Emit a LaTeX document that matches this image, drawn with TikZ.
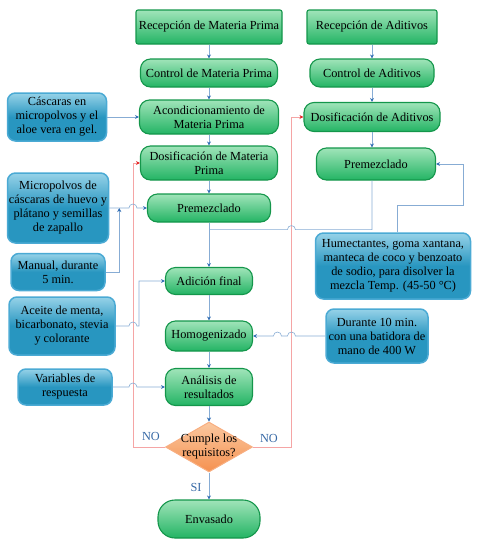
\documentclass[tikz,border=0pt]{standalone}
\usepackage{fontspec}
\setmainfont{Liberation Serif}
\usetikzlibrary{positioning,shapes.geometric,arrows.meta}

\definecolor{greenTop}{RGB}{160,228,185}
\definecolor{greenBot}{RGB}{35,180,100}
\definecolor{greenEdge}{RGB}{20,150,75}
\definecolor{blueTop}{RGB}{150,210,232}
\definecolor{blueBot}{RGB}{40,150,192}
\definecolor{blueEdge}{RGB}{75,170,212}
\definecolor{orangeTop}{RGB}{250,200,160}
\definecolor{orangeBot}{RGB}{245,145,80}
\definecolor{orangeEdge}{RGB}{248,175,130}
\definecolor{flowBlue}{RGB}{135,172,212}
\definecolor{tipBlue}{RGB}{50,110,180}
\definecolor{lineRed}{RGB}{245,165,165}
\definecolor{tipRed}{RGB}{230,35,35}
\definecolor{labelBlue}{RGB}{55,105,165}

\begin{document}
\begin{tikzpicture}[font=\fontsize{12.3}{14}\selectfont, on grid,
stepnode/.style={rectangle, rounded corners=10pt, draw=greenEdge, line width=1.1pt, top color=greenTop, bottom color=greenBot, align=center, inner sep=1pt},
inputnode/.style={stepnode, rounded corners=2pt},
infonode/.style={rectangle, rounded corners=8pt, draw=blueEdge, line width=1.5pt, top color=blueTop, bottom color=blueBot, middle color=blueBot, align=center, inner sep=1pt},
decisionnode/.style={diamond, minimum width=87pt, minimum height=50pt, inner sep=0pt, draw=orangeEdge, line width=1pt, top color=orangeTop, bottom color=orangeBot},
link/.style={draw=flowBlue, line width=0.6pt},
flow/.style={link, -{Stealth[length=4pt, width=4pt, color=tipBlue]}},
backflow/.style={draw=lineRed, line width=0.7pt, -{Stealth[length=4pt, width=4pt, color=tipRed]}},
lbl/.style={text=labelBlue},
]
\useasboundingbox (0pt,0pt) rectangle (479pt,-550pt);

%Nodes
\node[inputnode, minimum width=146pt, minimum height=34pt] (recMP) at (209pt,-27pt) {Recepción de Materia Prima};
\node[stepnode, minimum width=137pt, minimum height=28pt] (ctrlMP)   [below=46pt of recMP]  {Control de Materia Prima};
\node[stepnode, minimum width=139pt, minimum height=34pt] (acond)    [below=44pt of ctrlMP] {Acondicionamiento de\\Materia Prima};
\node[stepnode, minimum width=137pt, minimum height=34pt] (dosMP)    [below=46pt of acond]  {Dosificación de Materia\\Prima};
\node[stepnode, minimum width=123pt, minimum height=28pt] (premL)    [below=45pt of dosMP]  {Premezclado};
\node[stepnode, minimum width=87pt, minimum height=27pt]  (adicion)  [below=73pt of premL]  {Adición final};
\node[stepnode, minimum width=87pt, minimum height=30pt]  (homog)    [below=55pt of adicion] {Homogenizado};
\node[stepnode, minimum width=87pt, minimum height=37pt]  (analisis) [below=51pt of homog]  {Análisis de\\resultados};
\node[decisionnode, label={[align=center]center:Cumple los\\requisitos?}] (cumple) [below=60pt of analisis] {};
\node[stepnode, rounded corners=17pt, minimum width=102pt, minimum height=38pt] (envasado) [below=72pt of cumple] {Envasado};

\node[inputnode, minimum width=130pt, minimum height=34pt] (recA) [right=163pt of recMP] {Recepción de Aditivos};
\node[stepnode, minimum width=124pt, minimum height=28pt] (ctrlA) [below=46pt of recA]  {Control de Aditivos};
\node[stepnode, minimum width=136pt, minimum height=29pt] (dosA)  [below=44pt of ctrlA] {Dosificación de Aditivos};
\node[stepnode, minimum width=119pt, minimum height=32pt] (premR) [below=47pt of dosA, xshift=4pt] {Premezclado};

\node[infonode, minimum width=99pt, minimum height=48pt]  (cascaras)  [left=152pt of acond]     {Cáscaras en\\micropolvos y el\\aloe vera en gel.};
\node[infonode, minimum width=101pt, minimum height=70pt] (micro)     [left=151pt of premL]     {Micropolvos de\\cáscaras de huevo y\\plátano y semillas\\de zapallo};
\node[infonode, minimum width=94pt, minimum height=37pt]  (manual)    [below=64pt of micro]     {Manual, durante\\5 min.};
\node[infonode, minimum width=106pt, minimum height=58pt] (aceite)    [below=54pt of manual, xshift=4pt] {Aceite de menta,\\bicarbonato, stevia\\y colorante};
\node[infonode, minimum width=94pt, minimum height=36pt]  (variables) [left=144pt of analisis]  {Variables de\\respuesta};
\node[infonode, minimum width=155pt, minimum height=66pt] (humect)    [below=102pt of premR, xshift=17pt] {Humectantes, goma xantana,\\manteca de coco y benzoato\\de sodio, para disolver la\\mezcla Temp. (45-50 °C)};
\node[infonode, minimum width=102pt, minimum height=54pt] (durante)   [right=168pt of homog]    {Durante 10 min.\\con una batidora de\\mano de 400 W};

\node[lbl] (noL) at ([xshift=-14pt, yshift=11pt]cumple.west)  {NO};
\node[lbl] (noR) at ([xshift=16pt, yshift=9pt]cumple.east)    {NO};
\node[lbl] (si)  at ([xshift=-13pt, yshift=-15pt]cumple.south) {SI};

\coordinate (redL)  at ([xshift=-7pt]dosMP.west);
\coordinate (redR)  at ([xshift=-12pt]dosA.west);
\coordinate (joinM) at ([xshift=10pt]micro.east);
\coordinate (mixJ)  at ([yshift=-7pt]premL.south);

%Lines
\draw[backflow] (cumple.west) -| (redL) -- (dosMP.west);
\draw[backflow] (cumple.east) -| (redR) -- (dosA.west);

\foreach \a/\b in {recMP/ctrlMP, ctrlMP/acond, acond/dosMP, dosMP/premL, premL/adicion, adicion/homog, homog/analisis, analisis/cumple, cumple/envasado, recA/ctrlA, ctrlA/dosA}
  \draw[flow] (\a.south) -- (\b.north);
\draw[flow] (dosA.south) -- (dosA.south|-premR.north);

\draw[flow] (cascaras.east) -- (acond.west);
\draw[flow] (micro.east) -- ([xshift=-4pt]redL|-micro.east) arc[start angle=180, end angle=0, radius=4pt] -- (premL.west);
\draw[flow] (manual.east) -| (joinM);
\draw[flow] (aceite.east) -- ([xshift=-4pt]redL|-aceite.east) arc[start angle=180, end angle=0, radius=4pt] -- ([xshift=6pt]redL|-aceite.east) |- (adicion.west);
\draw[flow] (variables.east) -- ([xshift=-4pt]redL|-variables.east) arc[start angle=180, end angle=0, radius=4pt] -- (analisis.west);
\draw[flow] (durante.west) -- ([xshift=4pt]redR|-durante.west) arc[start angle=0, end angle=180, radius=4pt] -- ([xshift=-10pt]redR|-durante.west) arc[start angle=0, end angle=180, radius=4pt] -- (homog.east);
\draw[link] (dosA.south|-premR.south) |- ([xshift=4pt]redR|-mixJ) arc[start angle=0, end angle=180, radius=4pt] -- (mixJ);
\draw[flow] ([xshift=4pt]humect.north) -- ++(0pt,27pt) -| ([xshift=27pt]premR.east) -- (premR.east);
\end{tikzpicture}
\end{document}
